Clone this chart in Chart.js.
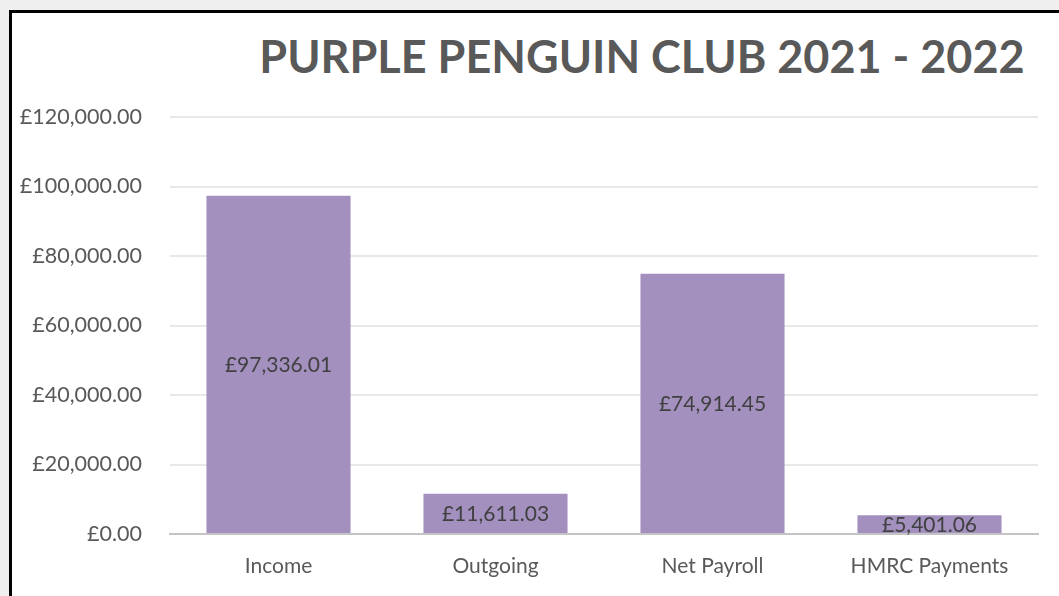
<!DOCTYPE html>
<html>
<head>
<meta charset="utf-8">
<script src="https://cdn.jsdelivr.net/npm/chart.js@4/dist/chart.umd.min.js"></script>
<style>
  html, body { margin: 0; padding: 0; width: 1059px; height: 596px; overflow: hidden; background: #efefef; }
  #frame { position: absolute; left: 9px; top: 10px; right: 0; bottom: 0; background: #fff;
           border-left: 3px solid #000; border-top: 3px solid #000; }
  #title { position: absolute; left: 0; width: 1284px; top: 29px; text-align: center;
           font: bold 45px Lato, sans-serif; color: #595959; white-space: nowrap; }
  #wrap { position: absolute; left: 0; top: 0; width: 1059px; height: 596px; }
</style>
</head>
<body>
<div id="frame"></div>
<div id="title">PURPLE PENGUIN CLUB 2021 - 2022</div>
<div id="wrap"><canvas id="chart" width="1059" height="596"></canvas></div>
<script>
// categories and values
const categories = ['Income', 'Outgoing', 'Net Payroll', 'HMRC Payments'];
const amounts = [97336.01, 11611.03, 74914.45, 5401.06];
const yTicks = [0, 20000, 40000, 60000, 80000, 100000, 120000];

const money = v => '£' + Number(v).toLocaleString('en-GB', { minimumFractionDigits: 2, maximumFractionDigits: 2 });

// labels in the middle of each bar
const barLabels = {
  id: 'barLabels',
  afterDatasetsDraw(chart) {
    const { ctx } = chart;
    const meta = chart.getDatasetMeta(0);
    ctx.save();
    ctx.font = '21px Lato, sans-serif';
    ctx.fillStyle = '#404040';
    ctx.textAlign = 'center';
    ctx.textBaseline = 'middle';
    meta.data.forEach((bar, i) => {
      const p = bar.getProps(['x', 'y', 'base'], true);
      ctx.fillText(money(amounts[i]), p.x, (p.y + p.base) / 2 + 1);
    });
    ctx.restore();
  }
};

new Chart(document.getElementById('chart'), {
  type: 'bar',
  data: {
    labels: categories,
    datasets: [{
      data: amounts,
      backgroundColor: '#A390BF',
      borderWidth: 0,
      categoryPercentage: 1,
      barPercentage: 0.664
    }]
  },
  options: {
    responsive: false,
    animation: false,
    devicePixelRatio: 1,
    layout: { padding: { left: 0, right: 21, top: 117, bottom: 0 } },
    plugins: { legend: { display: false }, tooltip: { enabled: false }, title: { display: false } },
    scales: {
      x: {
        afterFit: axis => { axis.height = 62; },
        grid: { display: false, drawTicks: false },
        border: { display: true, color: '#c4c4c4', width: 2 },
        ticks: { color: '#595959', font: { family: 'Lato', size: 21 }, padding: 20 }
      },
      y: {
        min: 0, max: 120000,
        afterBuildTicks: axis => { axis.ticks = yTicks.map(v => ({ value: v })); },
        afterFit: axis => { axis.width = 170; },
        grid: { color: '#e8e8e8', lineWidth: 2, drawTicks: false },
        border: { display: false },
        ticks: { color: '#595959', font: { family: 'Lato', size: 21.5 }, padding: 28, callback: v => money(v) }
      }
    }
  },
  plugins: [barLabels]
});
</script>
</body>
</html>
